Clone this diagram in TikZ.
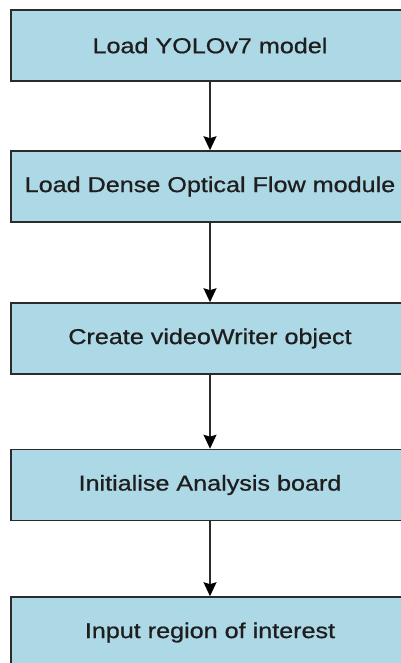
\documentclass[tikz,border=0pt]{standalone}
\usepackage{fontspec}
\setmainfont{Liberation Sans}
\newfontfamily\labelfont[FakeBold=0.7]{Liberation Sans}
\usetikzlibrary{arrows.meta}
\definecolor{boxfill}{HTML}{ADD8E6}
\definecolor{boxline}{HTML}{2B2B2B}
\definecolor{txt}{HTML}{1E1E1E}
\tikzset{
  stepbox/.style={draw=boxline, line width=1.6pt, fill=boxfill,
    minimum width=398pt, minimum height=71pt, inner sep=0pt,
    text=txt, font=\labelfont\fontsize{21.5pt}{24pt}\selectfont},
  flow/.style={draw=boxline, line width=1.5pt,
    -{Stealth[width=13pt,length=14pt,inset=2pt,color=black]}}
}
\newcommand{\wide}[1]{\scalebox{1.17}[1]{#1}}
\begin{document}
\begin{tikzpicture}[x=1pt,y=-1pt]
  \useasboundingbox (0,0) rectangle (401,663);
  \clip (0,0) rectangle (401,663);
  \node[stepbox] (n1) at (210,45.5)  {\wide{Load YOLOv7 model}};
  \node[stepbox] (n2) at (210,186.5) {\wide{Load Dense Optical Flow module}};
  \node[stepbox] (n3) at (210,338.5) {\wide{Create videoWriter object}};
  \node[stepbox] (n4) at (210,485)   {\wide{Initialise Analysis board}};
  \node[stepbox] (n5) at (210,632.5) {\wide{Input region of interest}};
  \draw[flow] (n1) -- (n2);
  \draw[flow] (n2) -- (n3);
  \draw[flow] (n3) -- (n4);
  \draw[flow] (n4) -- (n5);
\end{tikzpicture}
\end{document}
